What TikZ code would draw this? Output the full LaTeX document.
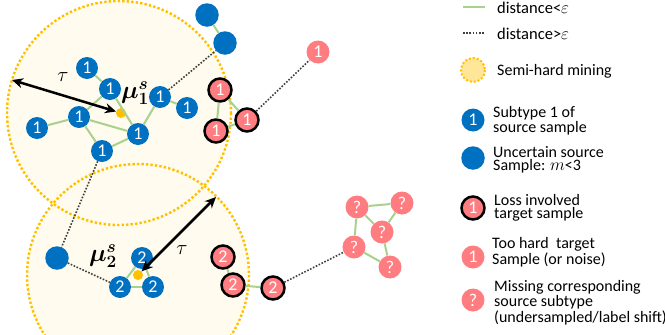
\documentclass[tikz,border=0pt]{standalone}
\usepackage{fontspec}
\setmainfont{Carlito}
\usepackage{bm}
\usetikzlibrary{arrows.meta}
\definecolor{sblue}{HTML}{0070C0}
\definecolor{tpink}{HTML}{FF7C80}
\definecolor{egreen}{HTML}{A9D18E}
\definecolor{sorange}{HTML}{FFC000}
\definecolor{cfill}{HTML}{FFFBEE}
\definecolor{lfill}{HTML}{FFE699}
\definecolor{dgray}{HTML}{404040}
\tikzset{
  num/.style={text=white, font=\fontsize{18}{18}\selectfont, inner sep=0pt},
  src/.style={circle, fill=sblue, minimum size=22pt, num},
  unc/.style={circle, fill=sblue, minimum size=23.5pt, inner sep=0pt},
  loss/.style={circle, fill=tpink, draw=black, line width=2.5pt, minimum size=23pt, num},
  hard/.style={circle, fill=tpink, minimum size=23pt, num},
  near/.style={egreen, line width=2pt},
  far/.style={dgray, line width=1.6pt, dash pattern=on 1.6pt off 1.6pt},
  zonefill/.style={fill=cfill},
  zoneline/.style={sorange, line width=2.4pt, dash pattern=on 2.4pt off 2.1pt},
  center dot/.style={circle, fill=sorange, minimum size=10pt, inner sep=0pt},
  tau/.style={line width=2.5pt, {Stealth[length=11pt,width=10pt]}-{Stealth[length=11pt,width=10pt]}},
  mulab/.style={font=\fontsize{24}{24}\selectfont, inner sep=0pt},
  taulab/.style={font=\fontsize{21}{21}\selectfont, inner sep=0pt},
  legbig/.style={font=\fontsize{16.5}{16.5}\selectfont, anchor=base west, inner sep=0pt},
  legtxt/.style={font=\fontsize{16}{13}\selectfont, anchor=base west, align=left, inner sep=0pt},
}
\begin{document}
\begin{tikzpicture}[x=1pt,y=-1pt]
\useasboundingbox (0,0) rectangle (665,335);
% zones
\fill[zonefill] (119,113) circle[radius=112];
\fill[zonefill] (138,275) circle[radius=111];
\draw[zoneline] (119,113) circle[radius=112];
\draw[zoneline] (138,275) circle[radius=111];
% centers
\node[center dot] (m1) at (121,113) {};
\node[center dot] (m2) at (138,275) {};
% subtype 1 source
\node[src] (a) at (87,68) {1};
\node[src] (b) at (110,89) {1};
\node[src] (c) at (79,117) {1};
\node[src] (d) at (37,128) {1};
\node[src] (e) at (102,151) {1};
\node[src] (f) at (138,134) {1};
\node[src] (g) at (160,97) {1};
\node[src] (h) at (187,108) {1};
% uncertain
\node[unc] (u1) at (207,15) {};
\node[unc] (u2) at (225,43) {};
\node[unc] (u3) at (57,258) {};
% subtype 2 source
\node[src] (p) at (142,258) {2};
\node[src] (q) at (120,287) {2};
\node[src] (r) at (153,287) {2};
% target loss-involved
\node[loss] (l1) at (220,90) {1};
\node[loss] (l2) at (216,131) {1};
\node[loss] (l3) at (247,120) {1};
\node[loss] (k1) at (223,257) {2};
\node[loss] (k2) at (233,285) {2};
\node[loss] (k3) at (273,288) {2};
% too hard
\node[hard] (t1) at (318,52) {1};
% missing
\node[hard] (x1) at (357,207) {?};
\node[hard] (x2) at (402,203) {?};
\node[hard] (x3) at (382,232) {?};
\node[hard] (x4) at (354,247) {?};
\node[hard] (x5) at (390,267) {?};
% near edges
\draw[near] (a) -- (b);
\draw[near] (b) -- (c);
\draw[near] (b) -- (f);
\draw[near] (d) -- (c);
\draw[near] (c) -- (e);
\draw[near] (c) -- (f);
\draw[near] (e) -- (f);
\draw[near] (f) -- (g);
\draw[near] (g) -- (h);
\draw[near] (u1) -- (u2);
\draw[near] (p) -- (q);
\draw[near] (q) -- (r);
\draw[near] (p) -- (r);
\draw[near] (l1) -- (l2);
\draw[near] (l1) -- (l3);
\draw[near] (l2) -- (l3);
\draw[near] (k1) -- (k2);
\draw[near] (k2) -- (k3);
\draw[near] (x1) -- (x2);
\draw[near] (x1) -- (x3);
\draw[near] (x2) -- (x3);
\draw[near] (x1) -- (x4);
\draw[near] (x4) -- (x5);
\draw[near] (x3) -- (x5);
% far edges
\draw[far] (g) -- (u2);
\draw[far] (e) -- (u3);
\draw[far] (u3) -- (q);
\draw[far] (l3) -- (t1);
\draw[far] (k3) -- (x4);
% labels
\node[mulab] (mu1) at (135,93) {$\bm{\mu}^{\bm{s}}_{\bm{1}}$};
\node[mulab] (mu2) at (103,256) {$\bm{\mu}^{\bm{s}}_{\bm{2}}$};
\coordinate (e1) at (12,80);
\coordinate (e2) at (216,197);
\draw[tau] (e1) -- (m1);
\draw[tau] (m2) -- (e2);
\node[taulab] (tau1) at (63,77) {$\tau$};
\node[taulab] (tau2) at (182,250) {$\tau$};
% legend
\coordinate (g1) at (463,7); \coordinate (g2) at (485,7);
\draw[near] (g1) -- (g2);
\node[legbig] (lg1) at (497,13.5) {distance<$\varepsilon$};
\coordinate (d1) at (463,33); \coordinate (d2) at (485,33);
\draw[far] (d1) -- (d2);
\node[legbig] (lg2) at (497,39.5) {distance>$\varepsilon$};
\node[circle, fill=lfill, minimum size=24pt, inner sep=0pt] (ls) at (473,70) {};
\draw[zoneline, line width=2pt, dash pattern=on 2pt off 2pt] (ls) circle[radius=12];
\node[legtxt] (lt1) at (497,75) {Semi-hard mining};
\node[src, minimum size=23pt] (ls1) at (473,120) {1};
\node[legtxt] (lt2) at (493,132) {Subtype 1 of\\source sample};
\node[unc] (ls2) at (473,158) {};
\node[legtxt] (lt3) at (493,170) {Uncertain source\\Sample: $m$<3};
\node[loss] (ls3) at (473,208) {1};
\node[legtxt] (lt4) at (494,218) {Loss involved\\target sample};
\node[hard] (ls4) at (473,257) {1};
\node[legtxt] (lt5) at (492,264) {Too hard \ target\\Sample (or noise)};
\node[hard] (ls5) at (473,300) {?};
\node[legtxt, font=\fontsize{16}{13.5}\selectfont] (lt6) at (494,322) {Missing corresponding\\source subtype\\(undersampled/label shift)};
\end{tikzpicture}
\end{document}
